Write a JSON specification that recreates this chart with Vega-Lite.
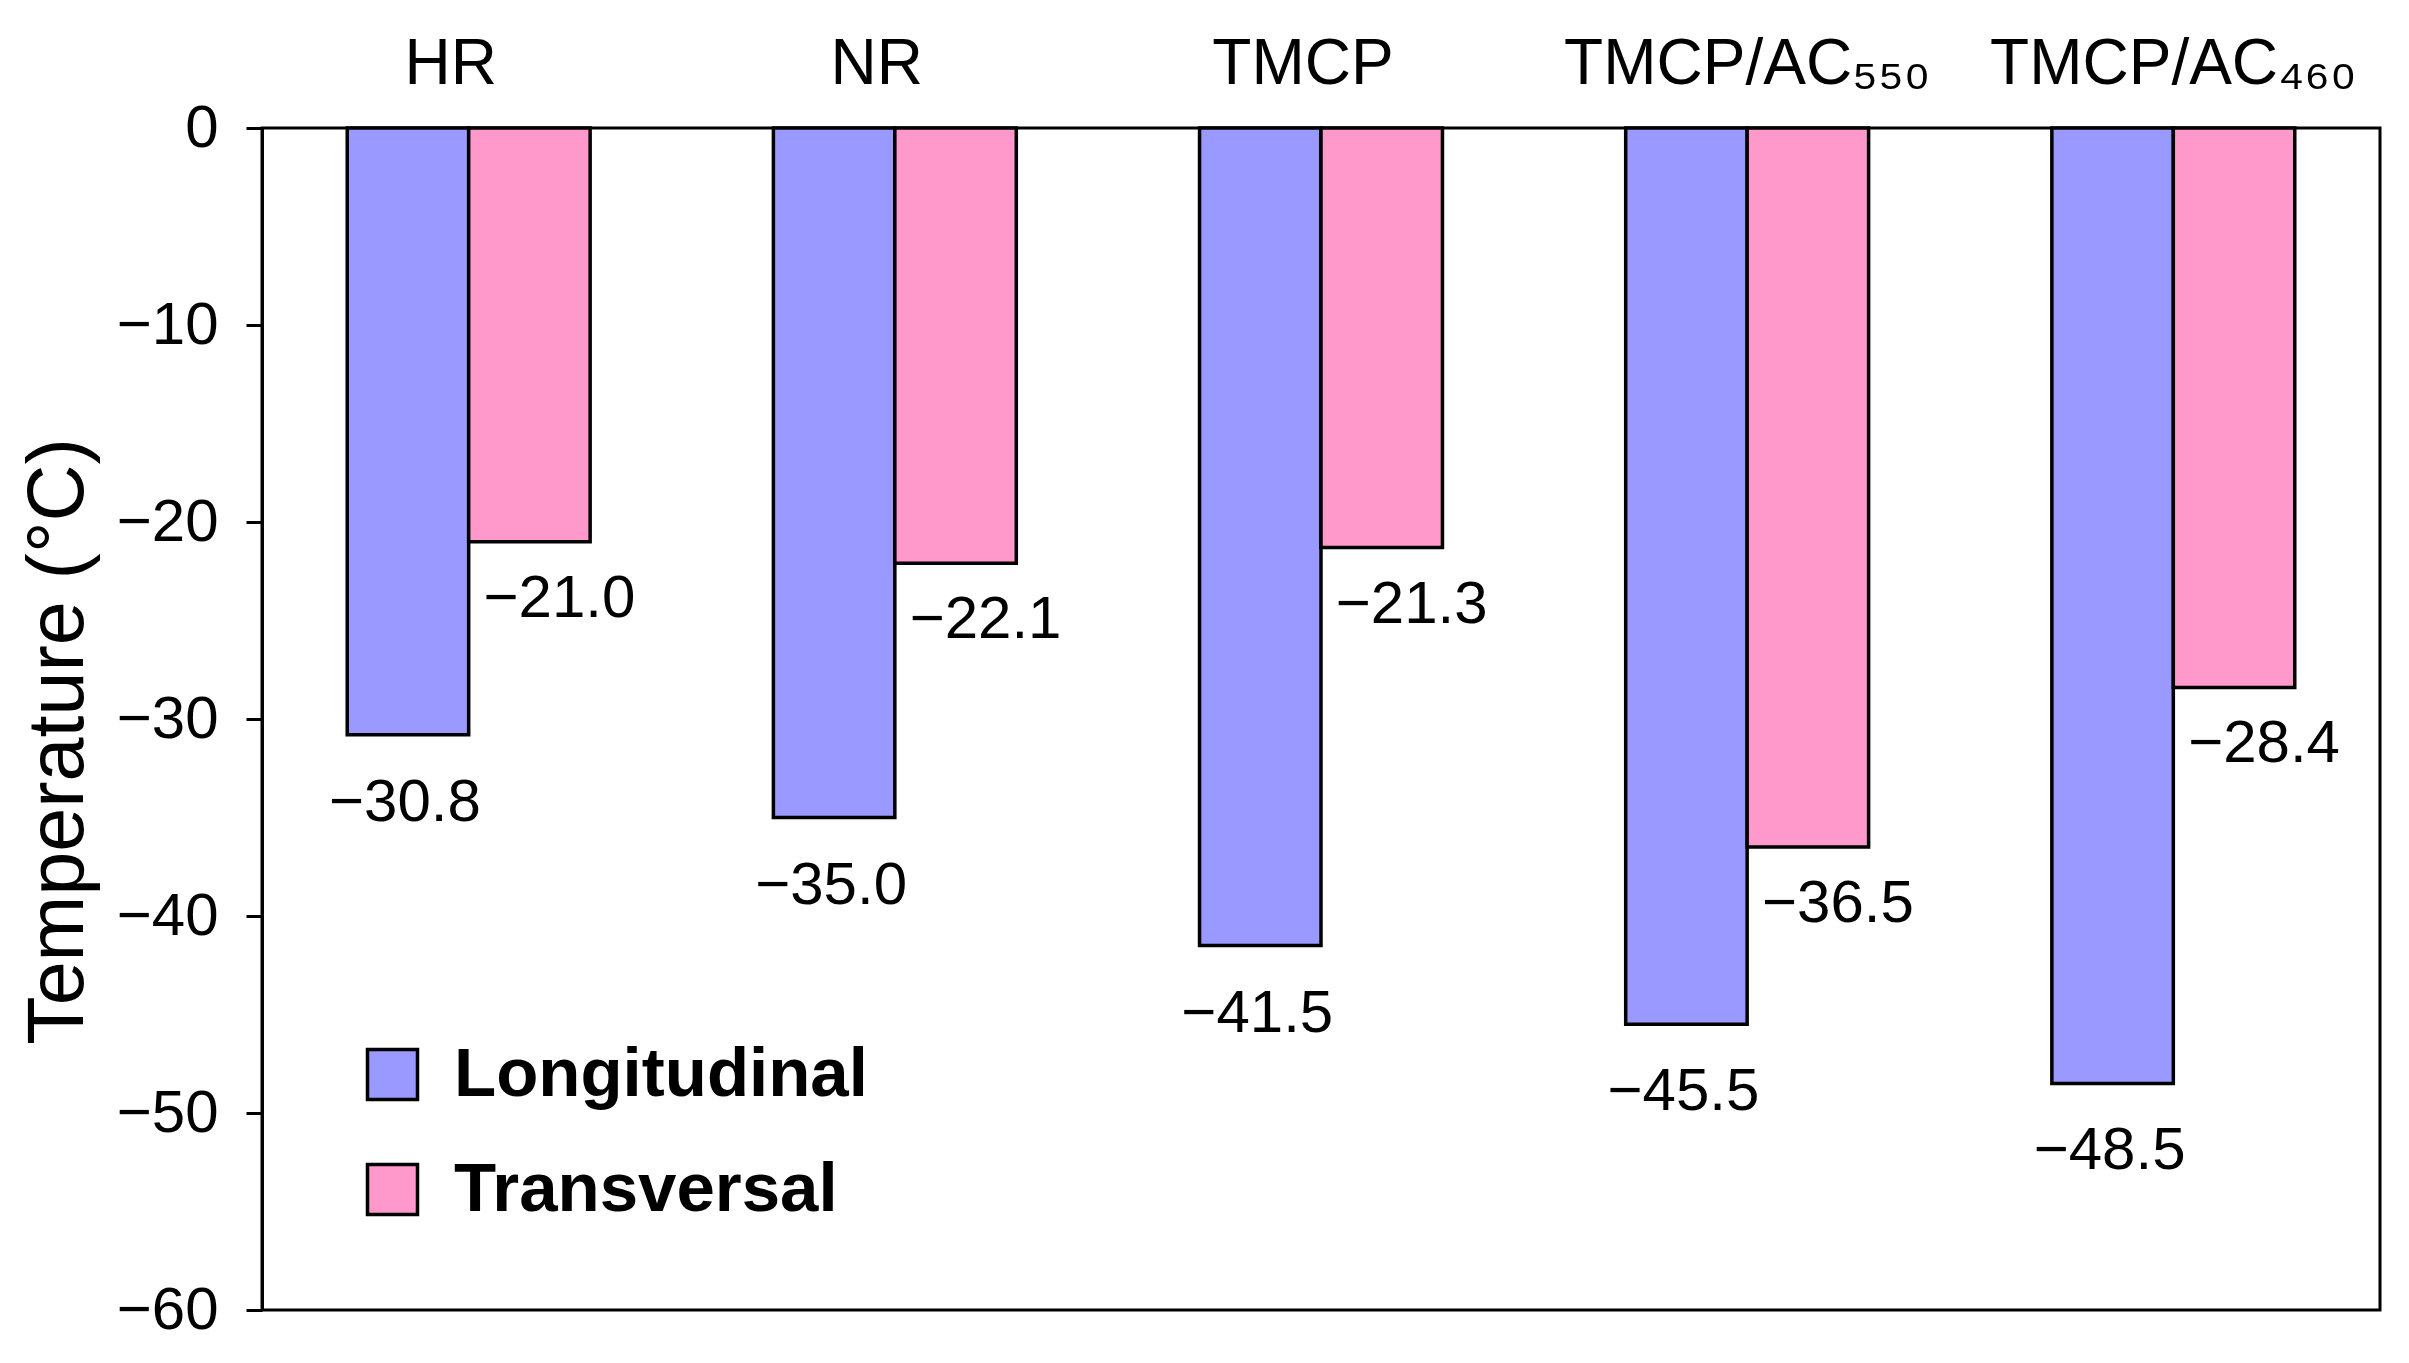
{
  "$schema": "https://vega.github.io/schema/vega-lite/v6.json",
  "autosize": "none",
  "width": 2118,
  "height": 1182,
  "padding": {"left": 262, "top": 128, "right": 29, "bottom": 53},
  "background": "white",
  "config": {
    "font": "Liberation Sans",
    "view": {"stroke": "black", "strokeWidth": 3},
    "axis": {"grid": false}
  },
  "data": {
    "values": [
      {"Process": "HR", "Direction": "Longitudinal", "Temperature": -30.8},
      {"Process": "HR", "Direction": "Transversal", "Temperature": -21.0},
      {"Process": "NR", "Direction": "Longitudinal", "Temperature": -35.0},
      {"Process": "NR", "Direction": "Transversal", "Temperature": -22.1},
      {"Process": "TMCP", "Direction": "Longitudinal", "Temperature": -41.5},
      {"Process": "TMCP", "Direction": "Transversal", "Temperature": -21.3},
      {"Process": "TMCP/AC₅₅₀", "Direction": "Longitudinal", "Temperature": -45.5},
      {"Process": "TMCP/AC₅₅₀", "Direction": "Transversal", "Temperature": -36.5},
      {"Process": "TMCP/AC₄₆₀", "Direction": "Longitudinal", "Temperature": -48.5},
      {"Process": "TMCP/AC₄₆₀", "Direction": "Transversal", "Temperature": -28.4}
    ]
  },
  "encoding": {
    "x": {
      "field": "Process",
      "type": "nominal",
      "sort": null,
      "scale": {"paddingInner": 0.43, "paddingOuter": 0.2},
      "axis": {
        "orient": "top",
        "title": null,
        "domain": false,
        "ticks": false,
        "labelAngle": 0,
        "labelFontSize": 64,
        "labelColor": "black",
        "labelPadding": 32,
        "labelLimit": 2000,
        "labelOverlap": false,
        "labelOffset": {"condition": {"test": "indexof(datum.label, 'AC') < 0", "value": -18}, "value": 0},
        "labelFont": "Liberation Sans"
      }
    },
    "xOffset": {"field": "Direction", "type": "nominal", "sort": ["Longitudinal", "Transversal"]},
    "y": {
      "field": "Temperature",
      "type": "quantitative",
      "scale": {"domain": [-60, 0], "nice": false},
      "axis": {
        "values": [0, -10, -20, -30, -40, -50, -60],
        "title": "Temperature (°C)",
        "titleFontSize": 79,
        "titleFontWeight": "normal",
        "titleColor": "black",
        "titleX": -204,
        "titleY": 613,
        "titleAngle": -90,
        "titleAlign": "center",
        "titleBaseline": "middle",
        "labelFontSize": 60,
        "labelColor": "black",
        "labelPadding": 28,
        "tickSize": 16,
        "tickWidth": 3,
        "tickColor": "black",
        "domainColor": "black",
        "domainWidth": 3
      }
    }
  },
  "layer": [
    {
      "mark": {"type": "bar", "stroke": "black", "strokeWidth": 3.5},
      "encoding": {
        "fill": {
          "field": "Direction",
          "type": "nominal",
          "scale": {"domain": ["Longitudinal", "Transversal"], "range": ["#9999FF", "#FF99CC"]},
          "legend": {
            "title": null,
            "orient": "none",
            "legendX": 96,
            "legendY": 912,
            "symbolType": "square",
            "symbolSize": 2500,
            "symbolStrokeColor": "black",
            "symbolStrokeWidth": 3.5,
            "symbolOpacity": 1,
            "labelFontSize": 69,
            "labelFontWeight": "bold",
            "labelColor": "black",
            "labelOffset": 27,
            "rowPadding": 45,
            "labelLimit": 1000
          }
        }
      }
    },
    {
      "transform": [{"filter": "datum.Direction === 'Longitudinal'"}],
      "mark": {"type": "text", "baseline": "alphabetic", "align": "center", "dy": 86, "dx": -3, "fontSize": 60, "color": "black"},
      "encoding": {"text": {"field": "Temperature", "type": "quantitative", "format": ".1f"}}
    },
    {
      "transform": [{"filter": "datum.Direction === 'Transversal'"}],
      "mark": {"type": "text", "baseline": "alphabetic", "align": "center", "dy": 75, "dx": 30, "fontSize": 60, "color": "black"},
      "encoding": {"text": {"field": "Temperature", "type": "quantitative", "format": ".1f"}}
    }
  ]
}
